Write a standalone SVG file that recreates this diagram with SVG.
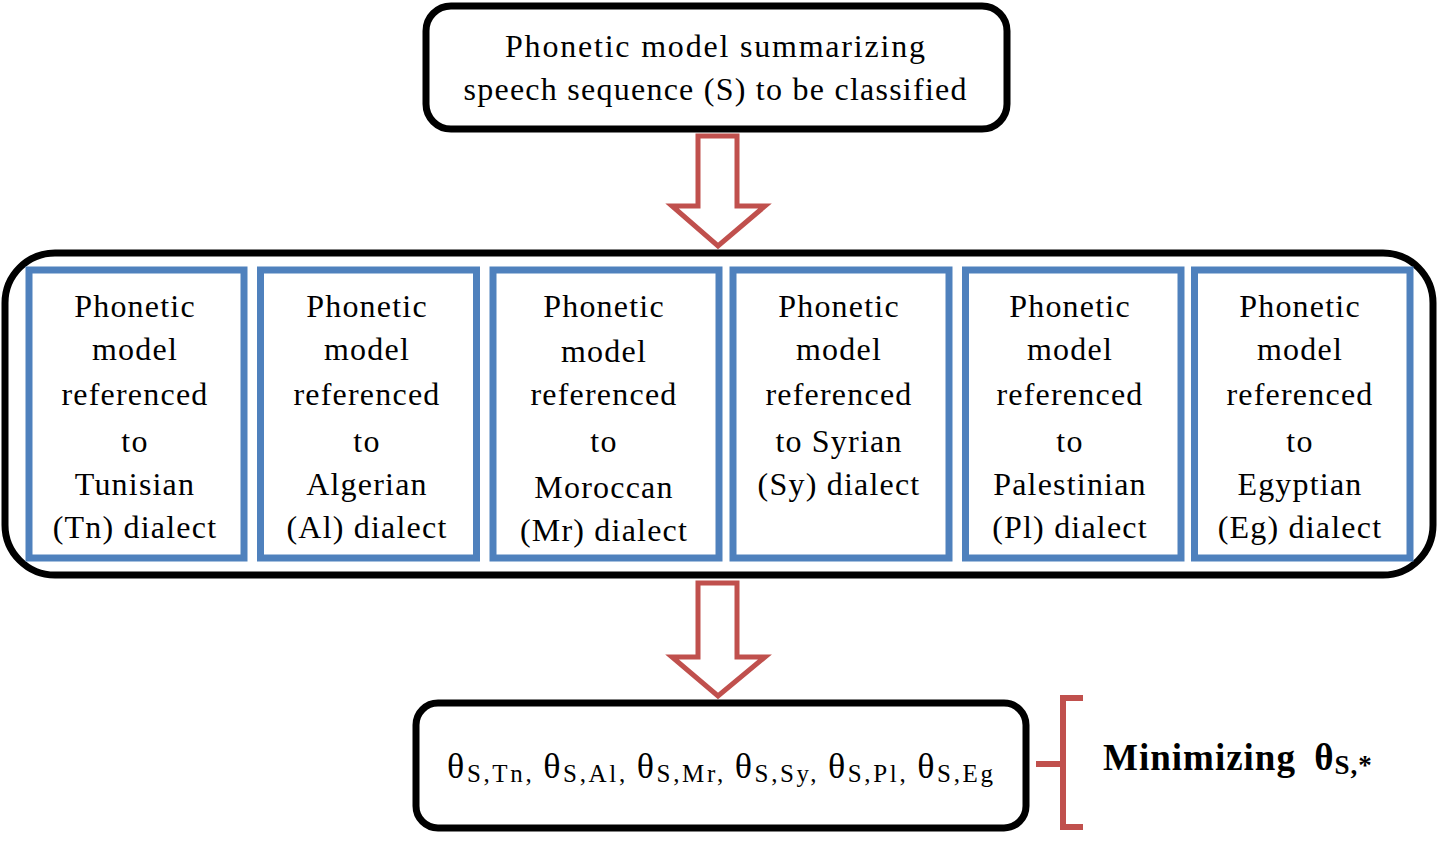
<svg xmlns="http://www.w3.org/2000/svg" width="1439" height="844" viewBox="0 0 1439 844">
<style>
.blk{fill:#fff;stroke:#000;stroke-width:7}
.blue{fill:#fff;stroke:#4f81bd;stroke-width:7}
.arr{fill:#fff;stroke:#c0504d;stroke-width:5;stroke-linejoin:miter}
.brace{fill:none;stroke:#c0504d;stroke-width:6}
text{font-family:"Liberation Serif","Times New Roman",serif;fill:#000}
.t{font-size:32px;text-anchor:middle;letter-spacing:1.2px}
.big{font-size:32px;text-anchor:middle}
</style>
<rect width="1439" height="844" fill="#fff"/>
<g id="top">
<rect class="blk" x="426" y="6" width="581" height="123" rx="25"/>
<text class="big" x="715" y="57" textLength="420" lengthAdjust="spacing">Phonetic model summarizing</text>
<text class="big" x="715" y="100" textLength="503" lengthAdjust="spacing">speech sequence (S) to be classified</text>
</g>
<g id="container">
<rect class="blk" x="5" y="253" width="1428" height="322" rx="50"/>
</g>
<g id="tn">
<rect class="blue" x="29" y="270" width="215" height="288"/>
<text class="t" x="135" y="317">Phonetic</text>
<text class="t" x="135" y="360">model</text>
<text class="t" x="135" y="405">referenced</text>
<text class="t" x="135" y="452">to</text>
<text class="t" x="135" y="495">Tunisian</text>
<text class="t" x="135" y="538">(Tn) dialect</text>
</g>
<g id="al">
<rect class="blue" x="260.5" y="270" width="216" height="288"/>
<text class="t" x="367" y="317">Phonetic</text>
<text class="t" x="367" y="360">model</text>
<text class="t" x="367" y="405">referenced</text>
<text class="t" x="367" y="452">to</text>
<text class="t" x="367" y="495">Algerian</text>
<text class="t" x="367" y="538">(Al) dialect</text>
</g>
<g id="mr">
<rect class="blue" x="493" y="270" width="226" height="288"/>
<text class="t" x="604" y="317">Phonetic</text>
<text class="t" x="604" y="362">model</text>
<text class="t" x="604" y="405">referenced</text>
<text class="t" x="604" y="452">to</text>
<text class="t" x="604" y="498">Moroccan</text>
<text class="t" x="604" y="541">(Mr) dialect</text>
</g>
<g id="sy">
<rect class="blue" x="733" y="270" width="216" height="288"/>
<text class="t" x="839" y="317">Phonetic</text>
<text class="t" x="839" y="360">model</text>
<text class="t" x="839" y="405">referenced</text>
<text class="t" x="839" y="452">to Syrian</text>
<text class="t" x="839" y="495">(Sy) dialect</text>
</g>
<g id="pl">
<rect class="blue" x="965.5" y="270" width="215.5" height="288"/>
<text class="t" x="1070" y="317">Phonetic</text>
<text class="t" x="1070" y="360">model</text>
<text class="t" x="1070" y="405">referenced</text>
<text class="t" x="1070" y="452">to</text>
<text class="t" x="1070" y="495">Palestinian</text>
<text class="t" x="1070" y="538">(Pl) dialect</text>
</g>
<g id="eg">
<rect class="blue" x="1194.5" y="270" width="215.5" height="288"/>
<text class="t" x="1300" y="317">Phonetic</text>
<text class="t" x="1300" y="360">model</text>
<text class="t" x="1300" y="405">referenced</text>
<text class="t" x="1300" y="452">to</text>
<text class="t" x="1300" y="495">Egyptian</text>
<text class="t" x="1300" y="538">(Eg) dialect</text>
</g>
<g id="connectors">
<path class="arr" d="M698,136 H737 V206 H765 L718,246 L672,206 H698 Z"/>
<path class="arr" d="M698,583 H737 V657 H765 L718,696 L672,657 H698 Z"/>
<path class="brace" d="M1083,698 H1063 V827 H1083 M1063,764 H1036"/>
</g>
<g id="result">
<rect class="blk" x="416" y="703" width="610" height="125" rx="22"/>
<text x="447" y="778" font-size="36" textLength="546" lengthAdjust="spacing"><tspan>θ</tspan><tspan font-size="25" dy="4">S,Tn, </tspan><tspan dy="-4">θ</tspan><tspan font-size="25" dy="4">S,Al, </tspan><tspan dy="-4">θ</tspan><tspan font-size="25" dy="4">S,Mr, </tspan><tspan dy="-4">θ</tspan><tspan font-size="25" dy="4">S,Sy, </tspan><tspan dy="-4">θ</tspan><tspan font-size="25" dy="4">S,Pl, </tspan><tspan dy="-4">θ</tspan><tspan font-size="25" dy="4">S,Eg</tspan></text>
</g>
<g id="minimizing">
<text x="1103" y="770" font-size="37" font-weight="bold" letter-spacing="1">Minimizing <tspan dx="8">θ</tspan><tspan font-size="27" dy="4">S,*</tspan></text>
</g>
</svg>
